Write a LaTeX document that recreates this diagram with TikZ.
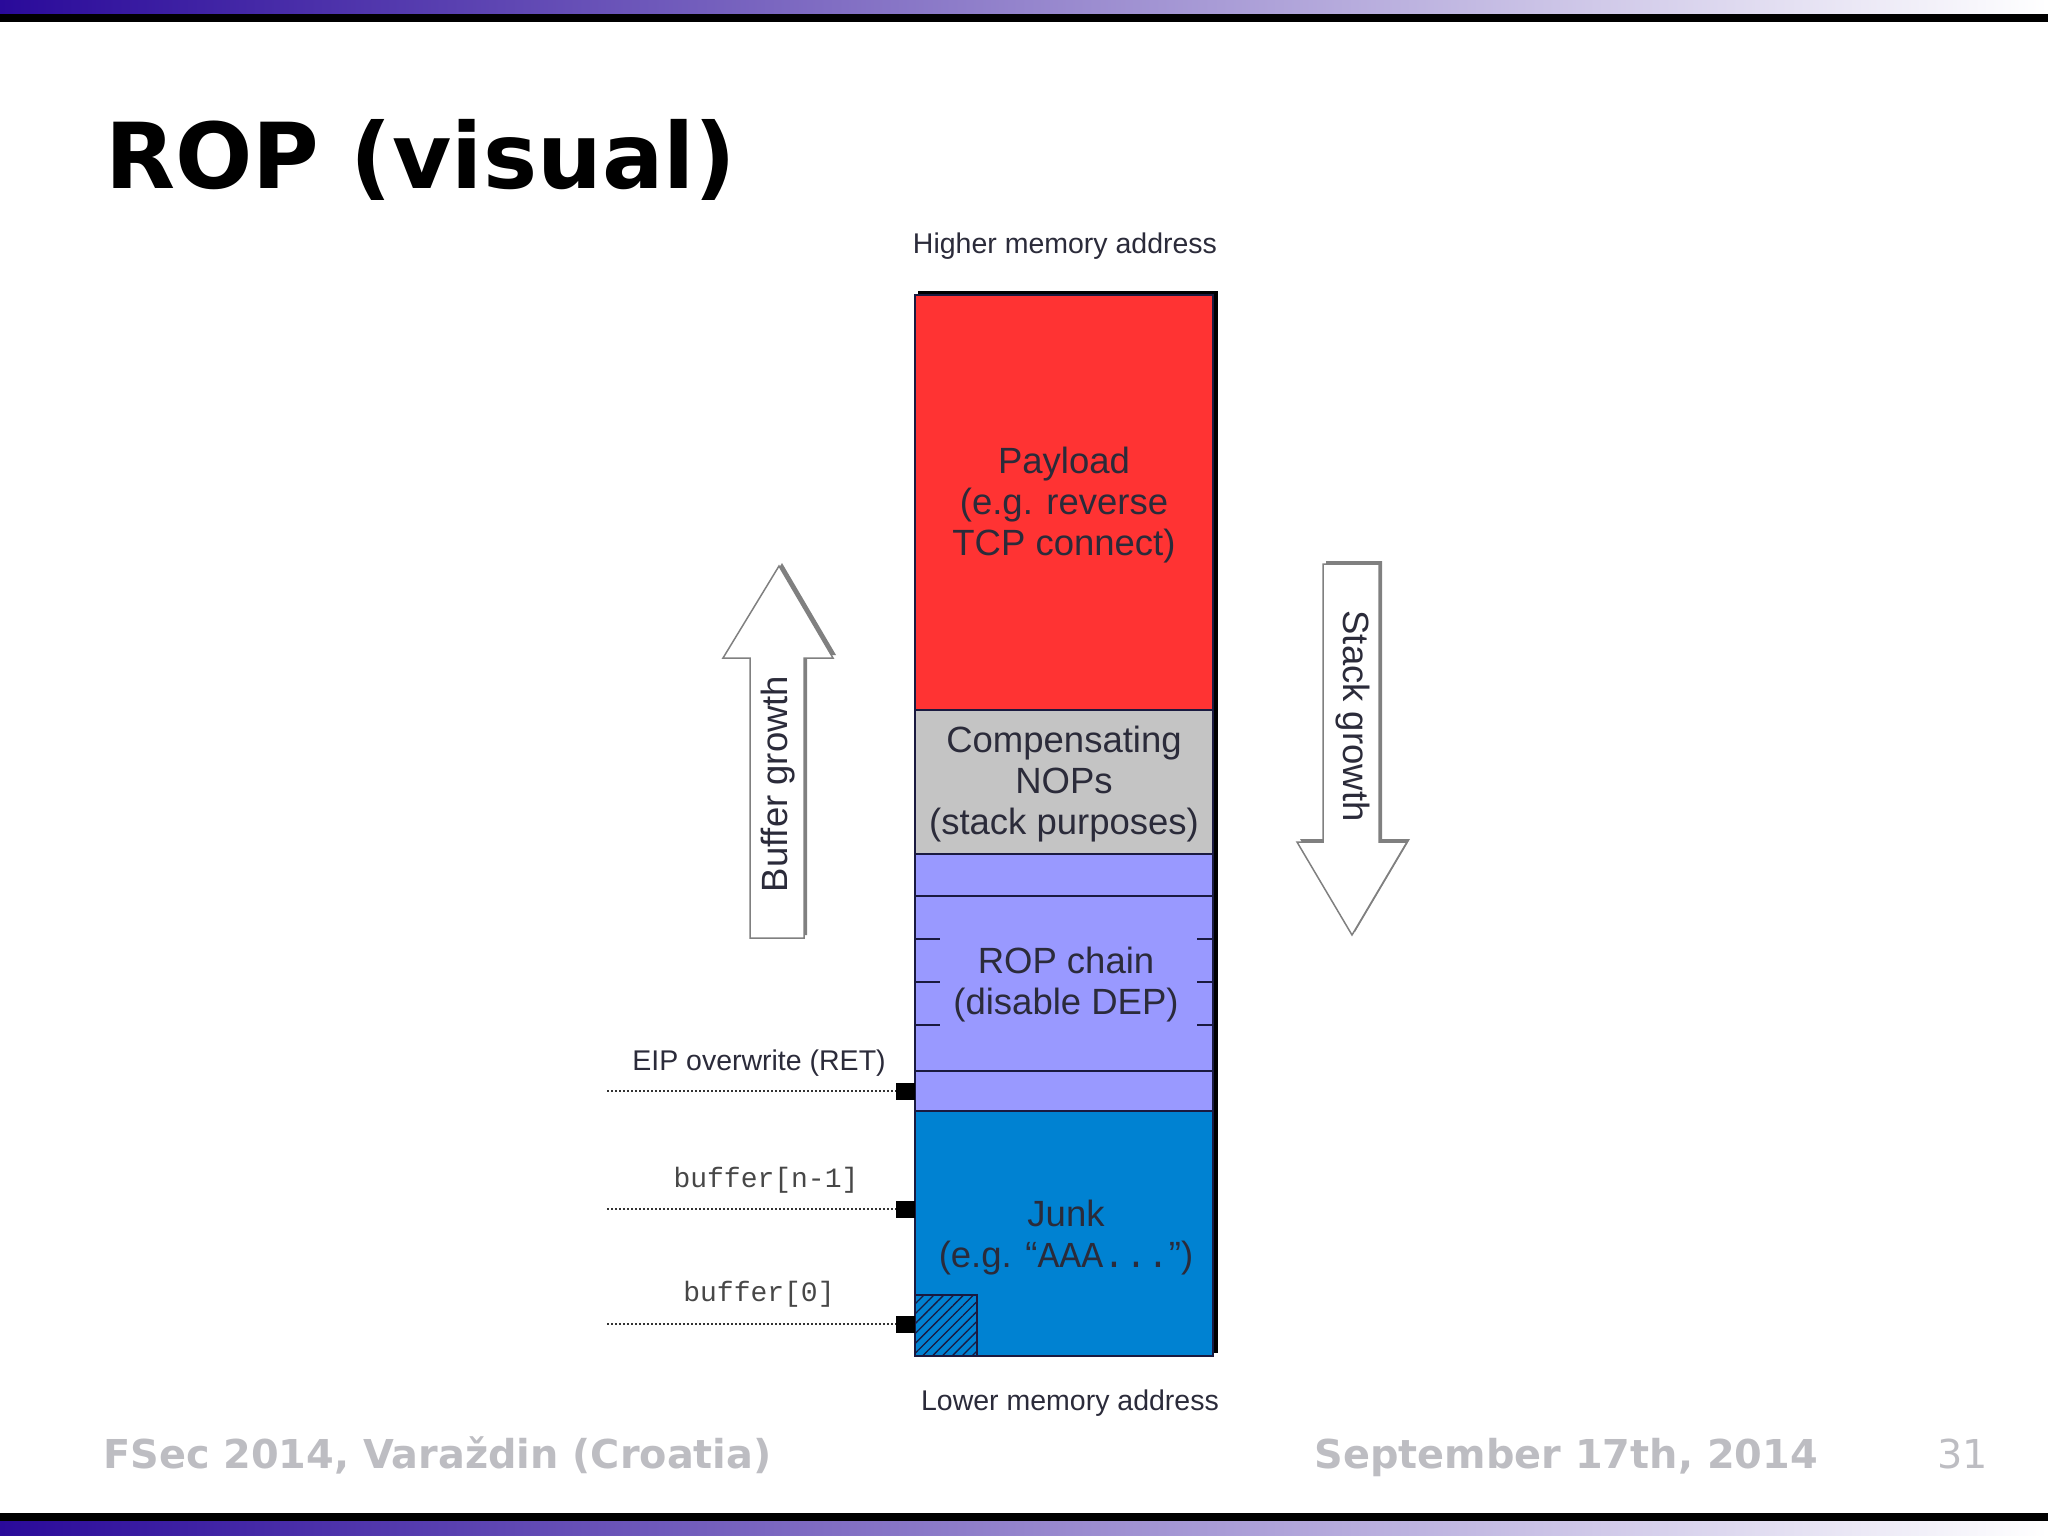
\documentclass[tikz,border=0pt]{standalone}
\usepackage{fontspec}
\setmainfont{DejaVu Sans}
\newfontfamily\arialfont{Liberation Sans}
\newfontfamily\courfont{Liberation Mono}
\usepackage{tikz}
\usetikzlibrary{patterns.meta}
\definecolor{barviolet}{HTML}{2A0A9A}
\definecolor{ropred}{HTML}{FF3333}
\definecolor{nopgray}{HTML}{C4C4C4}
\definecolor{roplilac}{HTML}{9999FF}
\definecolor{junkblue}{HTML}{0082D2}
\definecolor{celltxt}{HTML}{2B2B3A}
\definecolor{linenavy}{HTML}{1A1A40}
\definecolor{arrowgray}{HTML}{808080}
\definecolor{footgray}{HTML}{BDBDC2}

\begin{document}
\begin{tikzpicture}[x=1pt,y=-1pt,
    celltext/.style={font=\arialfont\fontsize{36.5}{41}\selectfont,celltxt,align=center,inner sep=0pt},
    sidetext/.style={font=\arialfont\fontsize{28.5}{34}\selectfont,celltxt,inner sep=0pt,anchor=base},
    monotext/.style={font=\courfont\fontsize{28}{33}\selectfont,black!72,inner sep=0pt,anchor=base},
    marker/.style={fill=black,inner sep=0pt,minimum width=19pt,minimum height=17pt},
    foot/.style={font=\bfseries\fontsize{39.8}{46}\selectfont,footgray,inner sep=0pt}]
    \useasboundingbox (0,0) rectangle (2048,1536);
    % --- barras del marco ---
    \shade[left color=barviolet,right color=white] (0,0) rectangle (2048,14);
    \fill[black] (0,14) rectangle (2048,22);
    \fill[black] (0,1513) rectangle (2048,1521);
    \shade[left color=barviolet,right color=white] (0,1521) rectangle (2048,1536);
    \node[anchor=base west,inner sep=0pt,font=\bfseries\fontsize{91}{100}\selectfont] (title) at (105,189) {ROP (visual)};
    % --- pila ---
    \fill[black] (918,291) rectangle (1218,1353);
    \filldraw[fill=ropred,draw=linenavy,line width=1.5pt] (915,295) rectangle (1213,710);
    \filldraw[fill=nopgray,draw=linenavy,line width=1.5pt] (915,710) rectangle (1213,854);
    \filldraw[fill=roplilac,draw=linenavy,line width=1.5pt] (915,854) rectangle (1213,1111);
    \filldraw[fill=junkblue,draw=linenavy,line width=1.5pt] (915,1111) rectangle (1213,1356);
    \foreach \y in {896,1071}{\draw[linenavy,line width=1.5pt] (915,\y) -- (1213,\y);}
    \foreach \y in {939,982,1025}{
      \draw[linenavy,line width=1.5pt] (915,\y) -- (940,\y);
      \draw[linenavy,line width=1.5pt] (1197,\y) -- (1213,\y);
    }
    % buffer[0] rayado
    \filldraw[pattern={Lines[angle=45,distance=7pt,line width=1.3pt]},pattern color=linenavy,draw=linenavy,line width=1.5pt] (915,1295) rectangle (977,1356);
    \node[celltext] (payload) at (1064,505) {Payload\\(e.g. reverse\\TCP connect)};
    \node[celltext] (nops) at (1064,784) {Compensating\\NOPs\\(stack purposes)};
    \node[celltext] (ropchain) at (1066,985) {ROP chain\\(disable DEP)};
    \node[celltext] (junk) at (1066,1238) {Junk\\(e.g. “{\courfont AAA...}”)};
    \node[sidetext] (high) at (1065,253) {Higher memory address};
    \node[sidetext] (low) at (1070,1410) {Lower memory address};
    % --- flechas de crecimiento ---
    \fill[arrowgray] (782,563) -- (836,655) -- (807,655) -- (807,935) -- (753,935) -- (753,655) -- (726,655) -- cycle;
    \filldraw[fill=white,draw=arrowgray,line width=1.5pt] (779,566) -- (833,658) -- (804,658) -- (804,938) -- (750,938) -- (750,658) -- (723,658) -- cycle;
    \node[celltext,rotate=90] (bufgrow) at (778,784) {Buffer growth};
    \fill[arrowgray] (1326,561) -- (1382,561) -- (1382,839) -- (1410,839) -- (1355,932) -- (1300,839) -- (1326,839) -- cycle;
    \filldraw[fill=white,draw=arrowgray,line width=1.5pt] (1323,564) -- (1379,564) -- (1379,842) -- (1407,842) -- (1352,935) -- (1297,842) -- (1323,842) -- cycle;
    \node[celltext,rotate=-90] (stackgrow) at (1353,716) {Stack growth};
    % --- marcas a la izquierda ---
    \node[sidetext] (eip) at (759,1070) {EIP overwrite (RET)};
    \node[monotext] (bufn) at (766,1187) {buffer[n-1]};
    \node[monotext] (buf0) at (759,1301) {buffer[0]};
    \foreach \n/\y in {eip/1091,bufn/1209,buf0/1324}{
      \node[marker] (mk\n) at (905.5,\y) {};
      \coordinate (d\n) at (607,\y);
      \draw[black!80,line width=1.5pt,dash pattern=on 2pt off 2pt] (d\n) -- (mk\n.west);
    }
    % --- pie ---
    \node[foot,anchor=base west] (conf) at (103,1468) {FSec 2014, Varaždin (Croatia)};
    \node[foot,anchor=base east] (date) at (1818,1468) {September 17th, 2014};
    \node[foot,anchor=base east,font=\fontsize{39.8}{46}\selectfont] (page) at (1988,1468) {31};
\end{tikzpicture}
\end{document}
